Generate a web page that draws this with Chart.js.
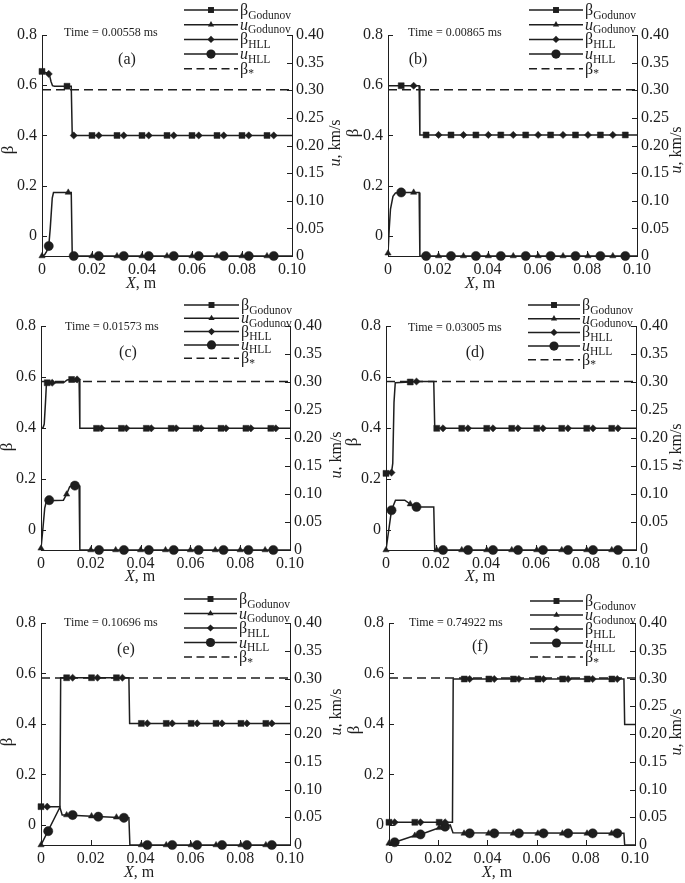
<!DOCTYPE html>
<html><head><meta charset="utf-8">
<script src="https://cdn.jsdelivr.net/npm/chart.js@4.4.0/dist/chart.umd.min.js"></script>
<style>
html,body{margin:0;padding:0;background:#fff;}
body{width:685px;height:883px;position:relative;overflow:hidden;}
canvas{position:absolute;}
</style></head><body>
<script>
// ---------- axis ticks / labels ----------
const xTicks = [0, 0.02, 0.04, 0.06, 0.08, 0.10];
const xTickLabels = ['0', '0.02', '0.04', '0.06', '0.08', '0.10'];
const betaTicks = [0, 0.2, 0.4, 0.6, 0.8];
const betaTickLabels = ['0', '0.2', '0.4', '0.6', '0.8'];
const uTicks = [0, 0.05, 0.10, 0.15, 0.20, 0.25, 0.30, 0.35, 0.40];
const uTickLabels = ['0', '0.05', '0.10', '0.15', '0.20', '0.25', '0.30', '0.35', '0.40'];
const betaStar = 0.582;
const times = ['0.00558', '0.00865', '0.01573', '0.03005', '0.10696', '0.74922'];
const tags = ['(a)', '(b)', '(c)', '(d)', '(e)', '(f)'];

// ---------- panel (a) ----------
const aBeta = [[0,0.655],[0.0025,0.647],[0.003,0.64],[0.0036,0.615],[0.0042,0.598],[0.005,0.596],[0.0117,0.596],[0.0121,0.40],[0.1,0.40]];
const aU = [[0,0],[0.001,0.002],[0.0018,0.008],[0.0027,0.018],[0.0033,0.05],[0.0041,0.105],[0.0046,0.115],[0.0117,0.115],[0.0121,0],[0.1,0]];
const aBetaG = [[0,0.655],[0.01,0.596],[0.02,0.4],[0.03,0.4],[0.04,0.4],[0.05,0.4],[0.06,0.4],[0.07,0.4],[0.08,0.4],[0.09,0.4]];
const aBetaH = [[0.0027,0.645],[0.0127,0.4],[0.0227,0.4],[0.0327,0.4],[0.0427,0.4],[0.0527,0.4],[0.0627,0.4],[0.0727,0.4],[0.0827,0.4],[0.0927,0.4]];
const aUG = [[0,0],[0.0105,0.115],[0.02,0],[0.03,0],[0.04,0],[0.05,0],[0.06,0],[0.07,0],[0.08,0],[0.09,0]];
const aUH = [[0.0027,0.018],[0.0127,0],[0.0227,0],[0.0327,0],[0.0427,0],[0.0527,0],[0.0627,0],[0.0727,0],[0.0827,0],[0.0927,0]];

// ---------- panel (b) ----------
const bBeta = [[0,0.598],[0.0125,0.598],[0.0128,0.402],[0.1,0.402]];
const bU = [[0,0.005],[0.0005,0.05],[0.001,0.085],[0.002,0.108],[0.003,0.114],[0.0045,0.115],[0.0125,0.115],[0.0128,0],[0.1,0]];
const bBetaG = [[0.0053,0.598],[0.0153,0.402],[0.0253,0.402],[0.0353,0.402],[0.0453,0.402],[0.0553,0.402],[0.0653,0.402],[0.0753,0.402],[0.0853,0.402],[0.0953,0.402]];
const bBetaH = [[0.0103,0.598],[0.0203,0.402],[0.0303,0.402],[0.0403,0.402],[0.0503,0.402],[0.0603,0.402],[0.0703,0.402],[0.0803,0.402],[0.0903,0.402]];
const bUG = [[0,0.005],[0.0103,0.115],[0.0203,0],[0.0303,0],[0.0403,0],[0.0503,0],[0.0603,0],[0.0703,0],[0.0803,0],[0.0903,0]];
const bUH = [[0.0053,0.115],[0.0153,0],[0.0253,0],[0.0353,0],[0.0453,0],[0.0553,0],[0.0653,0],[0.0753,0],[0.0853,0],[0.0953,0]];

// ---------- panel (c) ----------
const cBeta = [[0,0.398],[0.0008,0.40],[0.0013,0.415],[0.0018,0.5],[0.0022,0.577],[0.009,0.577],[0.0105,0.588],[0.0115,0.59],[0.0153,0.59],[0.0156,0.398],[0.1,0.398]];
const cU = [[0,0.003],[0.0008,0.04],[0.0015,0.075],[0.0022,0.088],[0.009,0.089],[0.0103,0.0995],[0.0115,0.113],[0.0125,0.115],[0.0153,0.115],[0.0156,0],[0.1,0]];
const cBetaG = [[0.0025,0.577],[0.0123,0.59],[0.0223,0.398],[0.0323,0.398],[0.0423,0.398],[0.0523,0.398],[0.0623,0.398],[0.0723,0.398],[0.0823,0.398],[0.0923,0.398]];
const cBetaH = [[0.0045,0.577],[0.0145,0.59],[0.0243,0.398],[0.0343,0.398],[0.0443,0.398],[0.0543,0.398],[0.0643,0.398],[0.0743,0.398],[0.0843,0.398],[0.0943,0.398]];
const cUG = [[0,0.003],[0.0103,0.0995],[0.02,0],[0.03,0],[0.04,0],[0.05,0],[0.06,0],[0.07,0],[0.08,0],[0.09,0]];
const cUH = [[0.0033,0.089],[0.0136,0.115],[0.0233,0],[0.0333,0],[0.0433,0],[0.0533,0],[0.0633,0],[0.0733,0],[0.0833,0],[0.0933,0]];

// ---------- panel (d) ----------
const dBeta = [[0,0.221],[0.0022,0.224],[0.0027,0.26],[0.0032,0.5],[0.0037,0.577],[0.0097,0.58],[0.0122,0.582],[0.0191,0.582],[0.0195,0.398],[0.1,0.398]];
const dU = [[0,0],[0.0022,0.071],[0.0038,0.089],[0.0075,0.089],[0.0097,0.082],[0.0122,0.077],[0.0191,0.077],[0.0195,0],[0.1,0]];
const dBetaG = [[0,0.221],[0.0097,0.58],[0.0203,0.398],[0.0303,0.398],[0.0403,0.398],[0.0503,0.398],[0.0603,0.398],[0.0703,0.398],[0.0803,0.398],[0.0903,0.398]];
const dBetaH = [[0.0022,0.224],[0.0122,0.582],[0.0228,0.398],[0.0328,0.398],[0.0428,0.398],[0.0528,0.398],[0.0628,0.398],[0.0728,0.398],[0.0828,0.398],[0.0928,0.398]];
const dUG = [[0,0],[0.0097,0.082],[0.0203,0],[0.0303,0],[0.0403,0],[0.0503,0],[0.0603,0],[0.0703,0],[0.0803,0],[0.0903,0]];
const dUH = [[0.0022,0.071],[0.0122,0.077],[0.0228,0],[0.0328,0],[0.0428,0],[0.0528,0],[0.0628,0],[0.0728,0],[0.0828,0],[0.0928,0]];

// ---------- panel (e) ----------
const eBeta = [[0,0.072],[0.0076,0.072],[0.0079,0.583],[0.0353,0.583],[0.0356,0.402],[0.1,0.402]];
const eU = [[0,0],[0.0076,0.068],[0.0085,0.054],[0.0103,0.054],[0.0203,0.052],[0.0333,0.049],[0.0353,0.049],[0.0357,0],[0.1,0]];
const eBetaG = [[0,0.072],[0.0103,0.583],[0.0203,0.583],[0.0303,0.583],[0.0403,0.402],[0.0503,0.402],[0.0603,0.402],[0.0703,0.402],[0.0803,0.402],[0.0903,0.402]];
const eBetaH = [[0.0025,0.072],[0.0127,0.583],[0.0227,0.583],[0.0327,0.583],[0.0427,0.402],[0.0527,0.402],[0.0627,0.402],[0.0727,0.402],[0.0827,0.402],[0.0927,0.402]];
const eUG = [[0,0],[0.0103,0.054],[0.0203,0.052],[0.0303,0.05],[0.0403,0],[0.0503,0],[0.0603,0],[0.0703,0],[0.0803,0],[0.0903,0]];
const eUH = [[0.0029,0.025],[0.0127,0.054],[0.023,0.051],[0.0333,0.049],[0.0427,0],[0.0527,0],[0.0627,0],[0.0727,0],[0.0827,0],[0.0927,0]];

// ---------- panel (f) ----------
const fBeta = [[0,0.01],[0.0258,0.01],[0.0261,0.578],[0.0955,0.578],[0.0958,0.398],[0.1,0.398]];
const fU = [[0,0.003],[0.0023,0.005],[0.0105,0.017],[0.0128,0.019],[0.0204,0.031],[0.0228,0.033],[0.0249,0.036],[0.026,0.022],[0.0955,0.021],[0.0958,0],[0.1,0]];
const fBetaG = [[0,0.01],[0.0105,0.01],[0.0204,0.01],[0.0306,0.578],[0.0406,0.578],[0.0506,0.578],[0.0606,0.578],[0.0706,0.578],[0.0806,0.578],[0.0906,0.578]];
const fBetaH = [[0.0023,0.01],[0.0128,0.01],[0.0228,0.01],[0.0328,0.578],[0.0428,0.578],[0.0528,0.578],[0.0628,0.578],[0.0728,0.578],[0.0828,0.578],[0.0928,0.578]];
const fUG = [[0,0.003],[0.0105,0.017],[0.0204,0.031],[0.0305,0.021],[0.0405,0.021],[0.0505,0.021],[0.0605,0.021],[0.0705,0.021],[0.0805,0.021],[0.0905,0.021]];
const fUH = [[0.0023,0.005],[0.0128,0.019],[0.0228,0.033],[0.0328,0.021],[0.0428,0.021],[0.0528,0.021],[0.0628,0.021],[0.0728,0.021],[0.0828,0.021],[0.0928,0.021]];

// ---------- layout (positions only) ----------
const layouts = [
  {canvas:[0,0,342,292], plot:[42,35,292,256], time:[64,33], tag:[127,60], leg:{x1:184,x2:238,tx:240,ys:[10,24.7,39.4,54.1,68.8]}, bt:[9,150], ut:[336,143], xt:[141,284]},
  {canvas:[342,0,343,292], plot:[388,35,637,256], time:[408,33], tag:[418,60], leg:{x1:529,x2:583,tx:585,ys:[10,24.7,39.4,54.1,68.8]}, bt:[354,133], ut:[677,150], xt:[480,284]},
  {canvas:[0,292,342,294], plot:[41,326,290,550], time:[65,327], tag:[128,353], leg:{x1:184,x2:239,tx:241,ys:[305,318.3,331.6,344.9,358.2]}, bt:[8,447], ut:[337,455], xt:[140,577]},
  {canvas:[342,292,343,294], plot:[386,326,636,550], time:[408,328], tag:[475,353], leg:{x1:528,x2:580,tx:582,ys:[305,318.7,332.4,346.1,359.8]}, bt:[353,442], ut:[677,447], xt:[480,577]},
  {canvas:[0,586,342,297], plot:[41,623,290,845], time:[64,623], tag:[126,650], leg:{x1:184,x2:237,tx:239,ys:[599,613.5,628,642.5,657]}, bt:[8,742], ut:[337,712], xt:[139,873]},
  {canvas:[342,586,343,297], plot:[389,623,635,845], time:[409,623], tag:[480,647], leg:{x1:530,x2:583,tx:585,ys:[601,615,629,643,657]}, bt:[355,730], ut:[677,732], xt:[497,873]}
];
const panelData = [
  [aBeta,aU,aBetaG,aUG,aBetaH,aUH],
  [bBeta,bU,bBetaG,bUG,bBetaH,bUH],
  [cBeta,cU,cBetaG,cUG,cBetaH,cUH],
  [dBeta,dU,dBetaG,dUG,dBetaH,dUH],
  [eBeta,eU,eBetaG,eUG,eBetaH,eUH],
  [fBeta,fU,fBetaG,fUG,fBetaH,fUH]
];

const INK = '#1e1e1e';
const SERIF = '"Liberation Serif", "DejaVu Serif", serif';
const MK = {
  sq: {style:'rect', r:4.2},
  tri:{style:'triangle', r:3.6},
  dia:{style:'rectRot', r:3.6},
  cir:{style:'circle', r:4.6}
};

function drawMarker(ctx, kind, x, y) {
  const r = MK[kind].r;
  ctx.beginPath();
  if (kind === 'sq') { const s = r * Math.SQRT1_2; ctx.rect(x - s, y - s, 2 * s, 2 * s); }
  else if (kind === 'tri') {
    ctx.moveTo(x, y - r);
    ctx.lineTo(x + r * Math.sin(2 * Math.PI / 3), y - r * Math.cos(2 * Math.PI / 3));
    ctx.lineTo(x + r * Math.sin(4 * Math.PI / 3), y - r * Math.cos(4 * Math.PI / 3));
    ctx.closePath();
  } else if (kind === 'dia') {
    ctx.moveTo(x, y - r); ctx.lineTo(x + r, y); ctx.lineTo(x, y + r); ctx.lineTo(x - r, y); ctx.closePath();
  } else { ctx.arc(x, y, r, 0, Math.PI * 2); }
  ctx.fill();
}

function partsWidth(ctx, parts) {
  let w = 0;
  for (const p of parts) { ctx.font = p.f; w += ctx.measureText(p.t).width; }
  return w;
}
function drawParts(ctx, x, y, parts) {
  let cx = x;
  for (const p of parts) {
    ctx.font = p.f;
    ctx.fillText(p.t, cx, y + (p.dy || 0));
    cx += ctx.measureText(p.t).width;
  }
}

const F16 = '16px ' + SERIF, F16I = 'italic 16px ' + SERIF, F11 = '11.5px ' + SERIF;
const legendEntries = [
  {mk:'sq', dash:false, parts:[{t:'β', f:F16},{t:'Godunov', f:F11, dy:3.5}]},
  {mk:'tri', dash:false, parts:[{t:'u', f:F16I},{t:'Godunov', f:F11, dy:3.5}]},
  {mk:'dia', dash:false, parts:[{t:'β', f:F16},{t:'HLL', f:F11, dy:3.5}]},
  {mk:'cir', dash:false, parts:[{t:'u', f:F16I},{t:'HLL', f:F11, dy:3.5}]},
  {mk:null, dash:true, parts:[{t:'β', f:F16},{t:'*', f:F11, dy:3.5}]}
];

function makePanel(i) {
  const L = layouts[i];
  const [CL, CT, CW, CH] = L.canvas;
  const [PL, PT, PR, PB] = L.plot;
  const l = PL - CL, t = PT - CT, r = PR - CL, b = PB - CT;
  const cv = document.createElement('canvas');
  cv.width = CW; cv.height = CH;
  cv.style.left = CL + 'px'; cv.style.top = CT + 'px';
  cv.style.width = CW + 'px'; cv.style.height = CH + 'px';
  document.body.appendChild(cv);
  const [beta, u, betaG, uG, betaH, uH] = panelData[i];

  const lineDs = (label, data, axis) => ({label, data, yAxisID: axis, showLine: true, borderColor: INK, borderWidth: 1.5, pointRadius: 0, fill: false, tension: 0});
  const mkDs = (label, data, axis, kind) => ({label, data, yAxisID: axis, showLine: false, pointStyle: MK[kind].style, pointRadius: MK[kind].r, backgroundColor: INK, borderColor: INK, borderWidth: 0.5, clip: false});

  const decor = {
    id: 'decor' + i,
    afterDraw(chart) {
      const ctx = chart.ctx;
      const xs = chart.scales.x, ys = chart.scales.y, y1 = chart.scales.y1;
      const ca = chart.chartArea;
      ctx.save();
      // inward tick marks
      ctx.strokeStyle = INK; ctx.lineWidth = 1;
      ctx.beginPath();
      xs.ticks.forEach(tk => { const px = Math.round(xs.getPixelForValue(tk.value)) + 0.5; ctx.moveTo(px, ca.bottom); ctx.lineTo(px, ca.bottom - 5); });
      ys.ticks.forEach(tk => { const py = Math.round(ys.getPixelForValue(tk.value)) + 0.5; ctx.moveTo(ca.left, py); ctx.lineTo(ca.left + 5, py); });
      y1.ticks.forEach(tk => { const py = Math.round(y1.getPixelForValue(tk.value)) + 0.5; ctx.moveTo(ca.right, py); ctx.lineTo(ca.right - 5, py); });
      ctx.stroke();

      ctx.fillStyle = INK;
      ctx.textBaseline = 'middle';
      ctx.textAlign = 'left';
      // time caption
      ctx.font = '12px ' + SERIF;
      ctx.fillText('Time = ' + times[i] + ' ms', L.time[0] - CL, L.time[1] - CT);
      // panel tag
      ctx.font = '16px ' + SERIF; ctx.textAlign = 'center';
      ctx.fillText(tags[i], L.tag[0] - CL, L.tag[1] - CT);
      ctx.textAlign = 'left';

      // legend
      ctx.textBaseline = 'alphabetic';
      legendEntries.forEach((e, k) => {
        const y = L.leg.ys[k] - CT;
        const x1 = L.leg.x1 - CL, x2 = L.leg.x2 - CL;
        ctx.strokeStyle = INK; ctx.lineWidth = 1.5;
        ctx.setLineDash(e.dash ? [8, 4.5] : []);
        ctx.beginPath(); ctx.moveTo(x1, y); ctx.lineTo(x2, y); ctx.stroke();
        ctx.setLineDash([]);
        if (e.mk) drawMarker(ctx, e.mk, (x1 + x2) / 2, y);
        drawParts(ctx, L.leg.tx - CL, y + 5, e.parts);
      });

      // axis titles
      const rot = (cx, cy, parts) => {
        ctx.save(); ctx.translate(cx, cy); ctx.rotate(-Math.PI / 2);
        const w = partsWidth(ctx, parts);
        ctx.textBaseline = 'middle';
        drawParts(ctx, -w / 2, 0, parts);
        ctx.restore();
      };
      rot(L.bt[0] - CL, L.bt[1] - CT, [{t:'β', f:'17px ' + SERIF}]);
      rot(L.ut[0] - CL, L.ut[1] - CT, [{t:'u', f:F16I},{t:', km/s', f:F16}]);
      const xp = [{t:'X', f:F16I},{t:', m', f:F16}];
      const xw = partsWidth(ctx, xp);
      ctx.textBaseline = 'middle';
      drawParts(ctx, L.xt[0] - CL - xw / 2, L.xt[1] - CT, xp);
      ctx.restore();
    }
  };

  const tickFont = {family: SERIF, size: 16};
  new Chart(cv, {
    type: 'scatter',
    data: {datasets: [
      lineDs('β*', [[0, betaStar], [0.1, betaStar]], 'y'),
      lineDs('β', beta, 'y'),
      lineDs('u', u, 'y1'),
      mkDs('βGodunov', betaG, 'y', 'sq'),
      mkDs('uGodunov', uG, 'y1', 'tri'),
      mkDs('βHLL', betaH, 'y', 'dia'),
      mkDs('uHLL', uH, 'y1', 'cir')
    ].map((d, k) => k === 0 ? Object.assign(d, {borderDash: [9, 5]}) : d)},
    options: {
      responsive: false, animation: false, devicePixelRatio: 1,
      layout: {padding: {left: 0, right: 0, top: t, bottom: 0}},
      plugins: {legend: {display: false}, tooltip: {enabled: false}, title: {display: false}},
      scales: {
        x: {type: 'linear', position: 'bottom', min: 0, max: 0.1,
            afterBuildTicks: s => { s.ticks = xTicks.map(v => ({value: v})); },
            afterFit: s => { s.height = CH - b; },
            grid: {display: false, drawTicks: false}, border: {display: true, color: INK, width: 1},
            ticks: {padding: 4, color: INK, font: tickFont, maxRotation: 0, autoSkip: false, callback: (v, k) => xTickLabels[k]}},
        y: {type: 'linear', position: 'left', min: -0.08, max: 0.8,
            afterBuildTicks: s => { s.ticks = betaTicks.map(v => ({value: v})); },
            afterFit: s => { s.width = l; },
            grid: {display: false, drawTicks: false}, border: {display: true, color: INK, width: 1},
            ticks: {padding: 5, color: INK, font: tickFont, autoSkip: false, callback: (v, k) => betaTickLabels[k]}},
        y1: {type: 'linear', position: 'right', min: 0, max: 0.4,
            afterBuildTicks: s => { s.ticks = uTicks.map(v => ({value: v})); },
            afterFit: s => { s.width = CW - r; },
            grid: {display: false, drawTicks: false}, border: {display: true, color: INK, width: 1},
            ticks: {padding: 4, color: INK, font: tickFont, autoSkip: false, callback: (v, k) => uTickLabels[k]}}
      }
    },
    plugins: [decor]
  });
}
for (let i = 0; i < 6; i++) makePanel(i);
</script>
</body></html>
